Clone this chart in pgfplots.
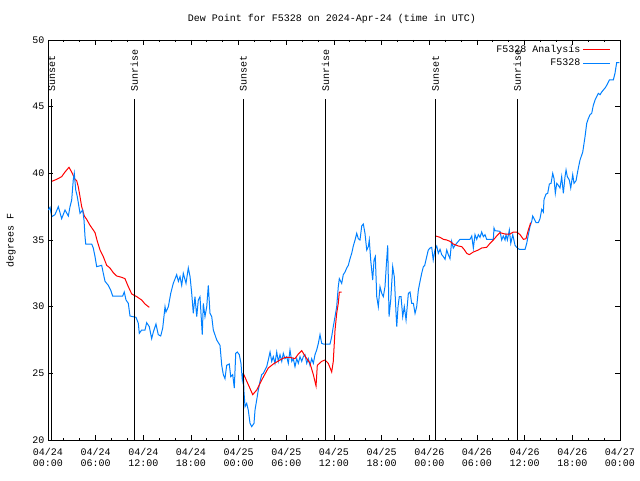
\documentclass[border=0pt]{standalone}
\usepackage{pgfplots}
\pgfplotsset{compat=1.18}
\usepackage{fontspec}
\setmainfont{Liberation Mono}
\definecolor{bl}{RGB}{0,128,255}
\newcommand{\tl}[2]{\vbox{\baselineskip=11pt\hbox{#1}\hbox{#2}}}
\begin{document}
\begin{tikzpicture}[x=1pt,y=1pt]
\path[use as bounding box] (0,0) rectangle (640,480);
\begin{axis}[
  at={(48pt,40pt)}, anchor=south west,
  width=572pt, height=400pt, scale only axis,
  xmin=0, xmax=72, ymin=20, ymax=50,
  xtick={0,6,...,72},
  xticklabels={\tl{04/24}{00:00},\tl{04/24}{06:00},\tl{04/24}{12:00},\tl{04/24}{18:00},\tl{04/25}{00:00},\tl{04/25}{06:00},\tl{04/25}{12:00},\tl{04/25}{18:00},\tl{04/26}{00:00},\tl{04/26}{06:00},\tl{04/26}{12:00},\tl{04/26}{18:00},\tl{04/27}{00:00}},
  minor x tick num=2,
  ytick={20,25,...,50},
  tick align=inside,
  major tick length=5pt, minor tick length=2.5pt,
  tick style={black, line width=0.8pt},
  axis line style={black, line width=0.8pt},
  /pgf/number format/assume math mode=true,
  x tick label style={font=\fontsize{10}{12}\selectfont, anchor=north, yshift=-5pt},
  y tick label style={font=\fontsize{10}{12}\selectfont},
  legend style={at={(1,1)}, anchor=north east, xshift=-8pt, yshift=-2pt, draw=none, fill=none, font=\fontsize{10}{11}\selectfont, row sep=1pt, inner sep=1pt},
  legend cell align=right,
  legend plot pos=right,
  legend image post style={xscale=1.6},
]
% Analysis (red)
\addplot[red, line width=1pt] coordinates {
(0.47,39.4) (1.09,39.55) (1.72,39.75) (2.14,40.1) (2.64,40.45) (2.98,40.1) (3.40,39.55) (3.61,39.45) (3.81,39.0) (4.03,38.25) (4.24,37.5) (4.57,36.8) (4.87,36.55) (5.29,36.1) (5.70,35.75) (5.92,35.55) (6.21,34.9) (6.55,34.25) (6.96,33.75) (7.39,33.1) (7.80,32.9) (8.22,32.55) (8.65,32.3) (9.28,32.2) (9.69,32.1) (10.11,31.5) (10.54,30.95) (11.17,30.75) (11.79,30.5) (12.21,30.2) (12.75,29.95)
};
\addlegendentry{F5328 Analysis}
% Observations (blue)
\addplot[bl, line width=1pt] coordinates {
(0.04,37.25) (0.25,37.45) (0.47,36.75) (0.88,36.9) (1.30,37.5) (1.72,36.6) (2.14,37.25) (2.56,36.8) (2.77,37.5) (2.98,38.0) (3.18,39.5) (3.31,40.0) (3.49,38.75) (3.69,38.25) (4.03,37.0) (4.37,37.25) (4.53,36.5) (4.66,35.25) (4.75,34.7) (5.50,34.7) (5.70,34.4) (5.92,33.75) (6.13,33.0) (6.76,33.1) (6.96,32.5) (7.18,31.9) (7.59,31.6) (7.89,31.25) (8.14,30.8) (9.40,30.8) (9.60,31.1) (9.82,30.5) (10.11,30.25) (10.32,29.3) (11.08,29.2) (11.37,28.75) (11.49,28.0) (11.79,28.25) (12.21,28.25) (12.42,28.8) (12.75,28.5) (13.05,27.6) (13.26,28.1) (13.59,28.7) (13.88,27.9) (14.19,27.8) (14.44,28.4) (14.73,30.0) (14.85,29.6) (15.15,30.0) (15.45,31.0) (15.77,31.75) (16.20,32.4) (16.41,31.9) (16.62,32.25) (16.83,31.6) (17.03,32.5) (17.37,31.75) (17.66,32.9) (17.88,32.25) (18.09,31.0) (18.29,29.5) (18.50,30.75) (18.72,29.25) (18.92,30.5) (19.13,30.75) (19.42,27.9) (19.55,30.25) (19.76,29.25) (19.98,30.0) (20.18,31.6) (20.39,29.5) (20.61,29.25) (20.81,28.25) (21.24,27.5) (21.65,27.1) (21.87,25.6) (22.07,24.9) (22.28,24.6) (22.49,25.6) (22.82,25.7) (23.0,24.75) (23.25,24.9) (23.45,23.9) (23.63,26.5) (23.83,26.6) (24.08,26.4) (24.29,25.75) (24.46,24.5) (24.58,25.0) (24.67,23.6) (24.80,22.5) (25.01,22.75) (25.21,22.25) (25.43,21.25) (25.64,21.0) (25.93,21.25) (26.06,22.25) (26.27,23.0) (26.47,23.75) (26.69,24.4) (26.90,24.9) (27.10,25.0) (27.53,25.5) (27.73,26.0) (27.95,26.6) (28.16,25.9) (28.36,26.25) (28.57,25.75) (28.79,26.6) (28.99,25.9) (29.20,26.4) (29.42,25.9) (29.62,26.5) (29.83,26.1) (30.05,26.25) (30.25,25.75) (30.46,26.75) (30.68,25.9) (30.88,26.1) (31.09,25.5) (31.31,26.1) (31.51,25.75) (31.72,26.25) (31.94,25.9) (32.14,26.25) (32.35,26.4) (32.57,25.75) (32.77,26.1) (32.98,25.6) (33.19,26.1) (33.40,25.75) (33.61,26.4) (33.82,26.75) (34.03,27.25) (34.24,27.9) (34.45,27.25) (34.66,27.2) (35.50,27.2) (35.71,27.75) (35.91,28.5) (36.13,29.25) (36.34,30.0) (36.54,31.5) (36.67,32.1) (36.97,31.75) (37.17,32.4) (37.39,32.6) (37.60,32.9) (37.80,33.1) (38.02,33.6) (38.23,34.0) (38.43,34.55) (38.65,35.0) (38.86,35.5) (39.06,35.1) (39.27,35.0) (39.49,36.05) (39.69,36.2) (39.90,35.5) (40.12,34.25) (40.32,34.5) (40.44,35.0) (40.62,33.5) (40.87,32.0) (41.04,33.5) (41.20,33.75) (41.38,30.75) (41.58,30.0) (41.79,31.5) (42.01,31.0) (42.21,30.75) (42.42,31.5) (42.63,33.5) (42.76,34.6) (42.93,29.25) (43.14,30.5) (43.39,33.0) (43.59,32.25) (43.81,29.5) (43.90,28.5) (44.06,30.0) (44.22,30.75) (44.44,30.75) (44.65,29.25) (44.85,30.0) (45.07,29.0) (45.36,31.0) (45.57,31.1) (45.78,30.25) (45.99,30.25) (46.20,29.5) (46.41,30.0) (46.62,31.25) (46.83,31.9) (47.04,32.5) (47.25,33.0) (47.42,33.1) (47.67,33.75) (47.87,34.25) (48.09,34.4) (48.30,34.45) (48.49,33.5) (48.72,34.3) (48.93,34.55) (49.13,34.0) (49.35,34.3) (49.56,33.9) (49.77,33.75) (49.98,33.55) (50.19,34.25) (50.39,33.9) (50.60,33.6) (50.81,34.9) (51.02,34.4) (51.23,34.6) (51.44,34.75) (51.86,35.05) (53.12,35.05) (53.34,35.3) (53.54,34.4) (53.75,35.4) (53.97,35.05) (54.17,35.4) (54.38,35.2) (54.59,35.6) (54.80,35.25) (55.01,35.4) (55.22,35.05) (56.06,35.05) (56.14,35.9) (56.27,35.7) (56.90,35.65) (57.11,35.0) (57.31,35.3) (57.53,35.0) (57.65,35.4) (57.82,35.0) (58.07,35.75) (58.25,34.75) (58.50,35.4) (58.79,34.6) (59.0,34.45) (59.33,34.3) (60.05,34.3) (60.26,34.75) (60.46,35.4) (60.67,36.0) (60.89,36.4) (61.01,36.8) (61.18,36.6) (61.43,36.3) (61.72,36.3) (61.93,36.6) (62.15,37.3) (62.35,37.1) (62.44,38.05) (62.69,38.45) (62.90,38.5) (63.11,39.2) (63.32,39.25) (63.53,40.0) (63.70,39.6) (63.86,38.5) (64.04,39.25) (64.24,39.1) (64.45,38.9) (64.66,39.75) (64.87,38.5) (65.08,39.75) (65.21,40.25) (65.37,39.75) (65.62,39.5) (65.80,38.9) (66.05,39.9) (66.21,39.25) (66.47,39.45) (66.63,40.0) (66.81,40.55) (66.97,41.0) (67.31,41.6) (67.60,42.75) (67.81,43.75) (68.01,44.1) (68.23,44.4) (68.44,44.5) (68.64,45.1) (68.86,45.5) (69.07,45.75) (69.27,46.0) (69.49,45.9) (69.70,46.1) (69.90,46.25) (70.12,46.4) (70.33,46.6) (70.66,47.0) (71.16,47.0) (71.37,47.5) (71.58,48.3) (71.91,48.3)
};
\addlegendentry{F5328}
\addplot[red, line width=1pt, forget plot] coordinates {
(24.58,25.0) (25.77,23.4) (26.27,23.75) (26.90,24.5) (27.73,25.4) (28.36,25.7) (29.20,26.0) (29.83,26.2) (30.46,26.2) (31.09,26.1) (31.51,26.45) (31.94,26.7) (32.35,26.3) (32.98,25.75) (33.40,24.9) (33.74,24.05) (33.90,25.6) (34.45,25.9) (34.87,26.0) (35.28,25.75) (35.71,25.1) (35.91,25.9) (36.13,28.25) (36.34,29.5) (36.54,30.25) (36.67,31.1) (36.97,31.1)
};
\addplot[red, line width=1pt, forget plot] coordinates {
(48.80,35.3) (49.35,35.2) (49.77,35.05) (50.19,35.0) (50.60,34.9) (51.02,34.7) (51.65,34.55) (52.08,34.5) (52.37,34.3) (52.71,34.0) (53.03,33.9) (53.54,34.1) (54.17,34.25) (54.59,34.4) (55.22,34.45) (55.64,34.75) (56.06,35.0) (56.48,35.3) (56.90,35.55) (57.53,35.45) (58.16,35.45) (58.57,35.6) (59.00,35.6) (59.42,35.4) (59.84,35.05) (60.17,35.1) (60.46,35.75) (60.76,36.3)
};
% sunrise / sunset lines
\addplot[black, line width=0.8pt, forget plot] coordinates {(0.47,20) (0.47,45.57)};
\addplot[black, line width=0.8pt, forget plot] coordinates {(10.87,20) (10.87,45.57)};
\addplot[black, line width=0.8pt, forget plot] coordinates {(24.58,20) (24.58,45.57)};
\addplot[black, line width=0.8pt, forget plot] coordinates {(34.95,20) (34.95,45.57)};
\addplot[black, line width=0.8pt, forget plot] coordinates {(48.80,20) (48.80,45.57)};
\addplot[black, line width=0.8pt, forget plot] coordinates {(59.08,20) (59.08,45.57)};
\node[rotate=90, anchor=west, inner sep=0pt, font=\fontsize{10}{12}\selectfont] at (axis cs:0.47,46.1) {Sunset};
\node[rotate=90, anchor=west, inner sep=0pt, font=\fontsize{10}{12}\selectfont] at (axis cs:10.87,46.1) {Sunrise};
\node[rotate=90, anchor=west, inner sep=0pt, font=\fontsize{10}{12}\selectfont] at (axis cs:24.58,46.1) {Sunset};
\node[rotate=90, anchor=west, inner sep=0pt, font=\fontsize{10}{12}\selectfont] at (axis cs:34.95,46.1) {Sunrise};
\node[rotate=90, anchor=west, inner sep=0pt, font=\fontsize{10}{12}\selectfont] at (axis cs:48.80,46.1) {Sunset};
\node[rotate=90, anchor=west, inner sep=0pt, font=\fontsize{10}{12}\selectfont] at (axis cs:59.08,46.1) {Sunrise};
\end{axis}
\node[font=\fontsize{10}{12}\selectfont] at (332,461) {Dew Point for F5328 on 2024-Apr-24 (time in UTC)};
\node[rotate=90, font=\fontsize{10}{12}\selectfont] at (11,240) {degrees F};
\end{tikzpicture}
\end{document}
